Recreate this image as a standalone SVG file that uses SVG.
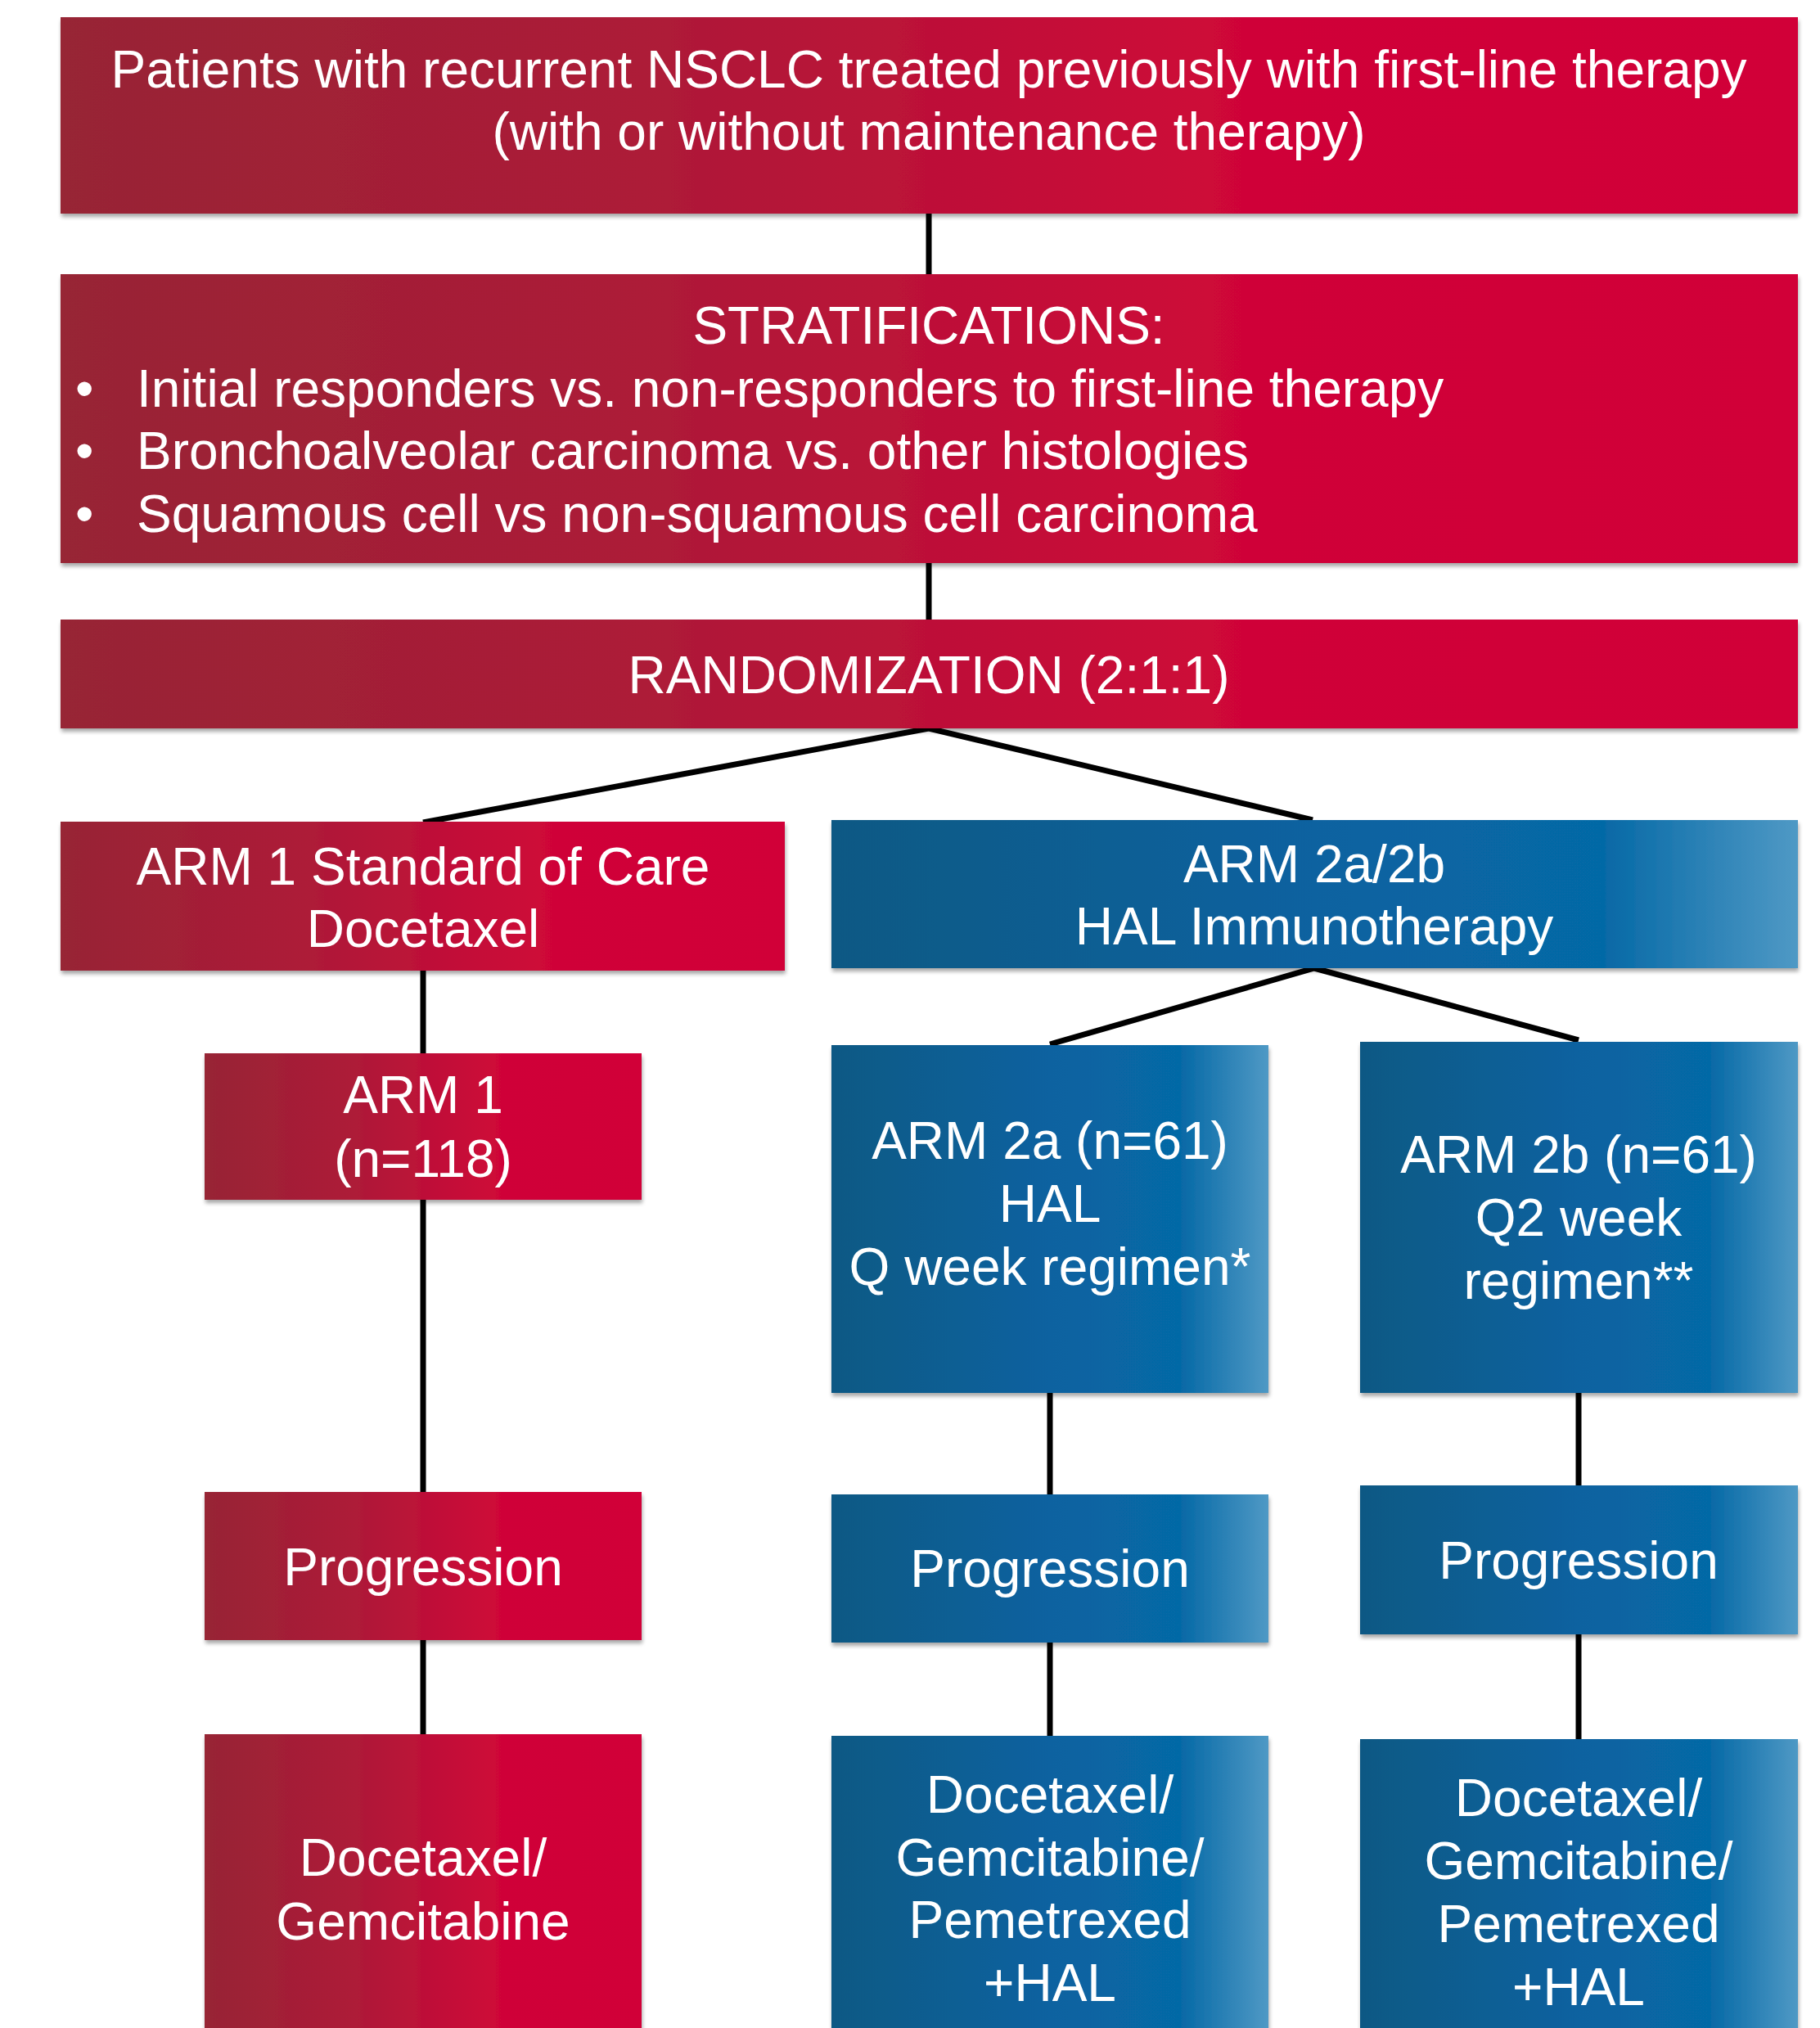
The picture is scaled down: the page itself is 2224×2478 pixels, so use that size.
<svg xmlns="http://www.w3.org/2000/svg" width="2224" height="2478" viewBox="0 0 2224 2478">
<defs>
<linearGradient id="gRed" x1="0" y1="0" x2="1" y2="0">
<stop offset="0" stop-color="#972536"/>
<stop offset="0.35" stop-color="#ae1a37"/>
<stop offset="0.68" stop-color="#cf0637"/>
<stop offset="1" stop-color="#d10537"/>
</linearGradient>
<linearGradient id="gBlue" x1="0" y1="0" x2="1" y2="0">
<stop offset="0" stop-color="#0b5984"/>
<stop offset="0.5" stop-color="#0862a0"/>
<stop offset="0.8" stop-color="#0669a6"/>
<stop offset="1" stop-color="#4f99c5"/>
</linearGradient>
<filter id="sh" x="-5%" y="-10%" width="110%" height="130%">
<feGaussianBlur in="SourceAlpha" stdDeviation="2.5"/>
<feOffset dx="1" dy="4" result="b"/>
<feComponentTransfer><feFuncA type="linear" slope="0.35"/></feComponentTransfer>
<feMerge><feMergeNode/><feMergeNode in="SourceGraphic"/></feMerge>
</filter>
</defs>
<style>
.red{fill:url(#gRed);filter:url(#sh)}
.blue{fill:url(#gBlue);filter:url(#sh)}
.t{font-family:"Liberation Sans",Arial,sans-serif;font-size:64px;fill:#ffffff;text-anchor:middle}
.l{text-anchor:start}
.c{stroke:#000000;stroke-width:7;fill:none}
</style>
<g id="connectors">
<line class="c" x1="1135" y1="260" x2="1135" y2="336"/>
<line class="c" x1="1135" y1="688" x2="1135" y2="758"/>
<polyline class="c" points="517,1005 1135,890 1604,1002"/>
<line class="c" x1="517" y1="1185" x2="517" y2="1288"/>
<line class="c" x1="517" y1="1465" x2="517" y2="1824"/>
<line class="c" x1="517" y1="2003" x2="517" y2="2120"/>
<polyline class="c" points="1283,1276 1606,1183 1929,1271"/>
<line class="c" x1="1283" y1="1701" x2="1283" y2="1827"/>
<line class="c" x1="1283" y1="2006" x2="1283" y2="2122"/>
<line class="c" x1="1929" y1="1701" x2="1929" y2="1816"/>
<line class="c" x1="1929" y1="1996" x2="1929" y2="2126"/>
</g>
<g id="patients">
<rect class="red" x="74" y="21" width="2123" height="240"/>
<text class="t" x="1135" y="107">Patients with recurrent NSCLC treated previously with first-line therapy</text>
<text class="t" x="1135" y="183">(with or without maintenance therapy)</text>
</g>
<g id="stratifications">
<rect class="red" x="74" y="335" width="2123" height="353"/>
<text class="t" x="1135" y="420">STRATIFICATIONS:</text>
<text class="t l" x="92" y="497">•</text>
<text class="t l" x="167" y="497">Initial responders vs. non-responders to first-line therapy</text>
<text class="t l" x="92" y="573">•</text>
<text class="t l" x="167" y="573">Bronchoalveolar carcinoma vs. other histologies</text>
<text class="t l" x="92" y="650">•</text>
<text class="t l" x="167" y="650">Squamous cell vs non-squamous cell carcinoma</text>
</g>
<g id="randomization">
<rect class="red" x="74" y="757" width="2123" height="133"/>
<text class="t" x="1135" y="847">RANDOMIZATION (2:1:1)</text>
</g>
<g id="arm1-soc">
<rect class="red" x="74" y="1004" width="885" height="182"/>
<text class="t" x="517" y="1081">ARM 1 Standard of Care</text>
<text class="t" x="517" y="1157">Docetaxel</text>
</g>
<g id="arm2">
<rect class="blue" x="1016" y="1002" width="1181" height="181"/>
<text class="t" x="1606" y="1078">ARM 2a/2b</text>
<text class="t" x="1606" y="1154">HAL Immunotherapy</text>
</g>
<g id="arm1">
<rect class="red" x="250" y="1287" width="534" height="179"/>
<text class="t" x="517" y="1360">ARM 1</text>
<text class="t" x="517" y="1438">(n=118)</text>
</g>
<g id="arm2a">
<rect class="blue" x="1016" y="1277" width="534" height="425"/>
<text class="t" x="1283" y="1416">ARM 2a (n=61)</text>
<text class="t" x="1283" y="1493">HAL</text>
<text class="t" x="1283" y="1570">Q week regimen*</text>
</g>
<g id="arm2b">
<rect class="blue" x="1662" y="1273" width="535" height="429"/>
<text class="t" x="1929" y="1433">ARM 2b (n=61)</text>
<text class="t" x="1929" y="1510">Q2 week</text>
<text class="t" x="1929" y="1587">regimen**</text>
</g>
<g id="prog1">
<rect class="red" x="250" y="1823" width="534" height="181"/>
<text class="t" x="517" y="1937">Progression</text>
</g>
<g id="prog2a">
<rect class="blue" x="1016" y="1826" width="534" height="181"/>
<text class="t" x="1283" y="1939">Progression</text>
</g>
<g id="prog2b">
<rect class="blue" x="1662" y="1815" width="535" height="182"/>
<text class="t" x="1929" y="1929">Progression</text>
</g>
<g id="tx1">
<rect class="red" x="250" y="2119" width="534" height="380"/>
<text class="t" x="517" y="2292">Docetaxel/</text>
<text class="t" x="517" y="2370">Gemcitabine</text>
</g>
<g id="tx2a">
<rect class="blue" x="1016" y="2121" width="534" height="380"/>
<text class="t" x="1283" y="2215">Docetaxel/</text>
<text class="t" x="1283" y="2292">Gemcitabine/</text>
<text class="t" x="1283" y="2368">Pemetrexed</text>
<text class="t" x="1283" y="2445">+HAL</text>
</g>
<g id="tx2b">
<rect class="blue" x="1662" y="2125" width="535" height="380"/>
<text class="t" x="1929" y="2219">Docetaxel/</text>
<text class="t" x="1929" y="2296">Gemcitabine/</text>
<text class="t" x="1929" y="2373">Pemetrexed</text>
<text class="t" x="1929" y="2450">+HAL</text>
</g>
</svg>
